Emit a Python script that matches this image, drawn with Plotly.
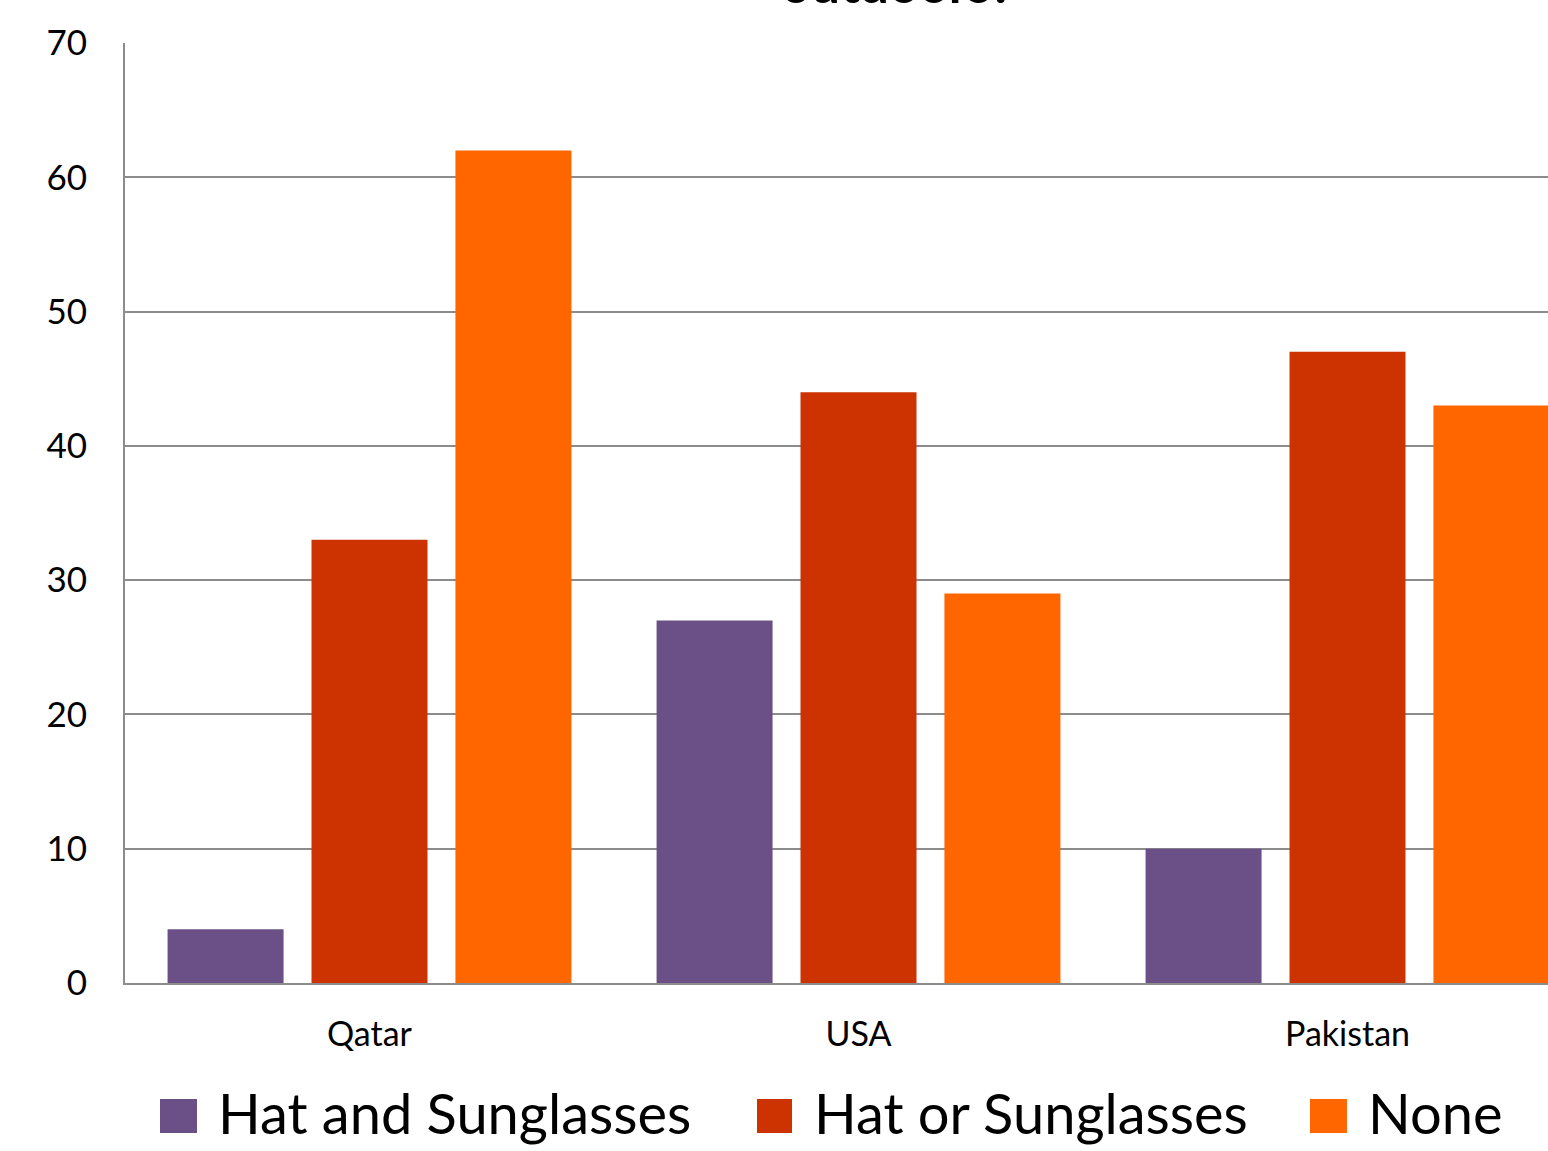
import plotly.graph_objects as go

# Survey results by country (percent of respondents)
countries = ["Qatar", "USA", "Pakistan"]
series_names = ["Hat and Sunglasses", "Hat or Sunglasses", "None"]
hat_and_sunglasses = [4, 27, 10]
hat_or_sunglasses = [33, 44, 47]
none_worn = [62, 29, 43]
y_ticks = [0, 10, 20, 30, 40, 50, 60, 70]
colors = ["#6A5086", "#CC3300", "#FF6600"]

W, H = 1548, 1151
L, T, B = 125, 43, 168
plot_w = W - L
plot_h = H - T - B

font_family = "Lato, 'Noto Sans', sans-serif"
grid_color = "#8C8C8C"

fig = go.Figure()
for name, vals, col in zip(series_names,
                           [hat_and_sunglasses, hat_or_sunglasses, none_worn],
                           colors):
    fig.add_trace(go.Bar(x=countries, y=vals, name=name,
                         marker=dict(color=col, line=dict(width=0)),
                         showlegend=False))


def px_x(p):
    return (p - L) / plot_w


def px_y(p):
    return (H - B - p) / plot_h


# Legend drawn as shapes + text so the swatches can be large
legend_items = [(160, 197, 216), (757, 792, 812), (1310, 1347, 1366)]
shapes = []
annotations = []
for (sx0, sx1, tx), name, col in zip(legend_items, series_names, colors):
    shapes.append(dict(type="rect", xref="paper", yref="paper",
                       x0=px_x(sx0), x1=px_x(sx1),
                       y0=px_y(1133), y1=px_y(1099),
                       fillcolor=col, line=dict(width=0)))
    annotations.append(dict(text=name, xref="paper", yref="paper",
                            x=px_x(tx), y=px_y(1112), xanchor="left",
                            yanchor="middle", showarrow=False,
                            font=dict(family=font_family, size=56,
                                      color="#000000")))

# Title (second line sits at the very top of the page)
annotations.append(dict(text="<b>outdoors?</b>", xref="paper", yref="paper",
                        x=px_x(897), y=px_y(-17), xanchor="center",
                        yanchor="middle", showarrow=False,
                        font=dict(family=font_family, size=52,
                                  color="#000000")))

fig.update_layout(
    width=W, height=H,
    margin=dict(l=L, r=0, t=T, b=B, pad=0),
    paper_bgcolor="white", plot_bgcolor="white",
    barmode="group", bargap=0.117, bargroupgap=0.194,
    font=dict(family=font_family, color="#000000"),
    shapes=shapes, annotations=annotations,
    showlegend=False,
)
fig.update_xaxes(
    range=[-0.5, -0.5 + plot_w / 489.0],
    showline=True, linecolor=grid_color, linewidth=2,
    showgrid=False, ticks="", ticklabelstandoff=20,
    tickfont=dict(family=font_family, size=34, color="#000000"),
)
fig.update_yaxes(
    range=[0, 70], tickvals=y_ticks,
    showline=True, linecolor=grid_color, linewidth=2,
    showgrid=True, gridcolor=grid_color, gridwidth=2,
    zeroline=False, ticks="", ticklabelstandoff=29,
    tickfont=dict(family=font_family, size=35, color="#000000"),
)

fig.write_html("out.html")
